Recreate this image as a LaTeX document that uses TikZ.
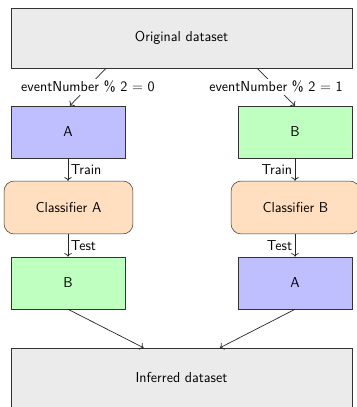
\documentclass[tikz,border=0pt]{standalone}
\usetikzlibrary{arrows.meta}
\begin{document}
\begin{tikzpicture}[x=0.78pt,y=-0.78pt,
  every node/.style={font=\sffamily\fontsize{11.2}{13}\selectfont},
  bigbox/.style={draw=black!80,fill=black!8,minimum width=266pt,minimum height=46.8pt,inner sep=0pt},
  setbox/.style={draw=black!80,minimum width=88.9pt,minimum height=40.6pt,inner sep=0pt},
  setA/.style={setbox,fill=blue!25},
  setB/.style={setbox,fill=green!25},
  clf/.style={draw=black!80,fill=orange!25,rounded corners=8pt,minimum width=100.6pt,minimum height=41.3pt,inner sep=0pt},
  conn/.style={draw=black!85,->,line width=0.55pt},
  lbl/.style={fill=white,inner sep=1.5pt}]
\useasboundingbox (0,0) rectangle (356,407);
\node[bigbox] (orig) at (181.5,38) {Original dataset};
\node[setA] (a1) at (68,132) {A};
\node[setB] (b1) at (295,132) {B};
\node[clf] (ca) at (68.5,207.5) {Classifier A};
\node[clf] (cb) at (295.5,207.5) {Classifier B};
\node[setB] (b2) at (68,283) {B};
\node[setA] (a2) at (295,283) {A};
\node[bigbox] (inf) at (181.5,378) {Inferred dataset};
\draw[conn] ([xshift=-58.9pt]orig.south) -- node[lbl] {eventNumber \% 2 = 0} ([xshift=1.5pt]a1.north);
\draw[conn] ([xshift=58.9pt]orig.south) -- node[lbl] {eventNumber \% 2 = 1} (b1.north);
\draw[conn] (a1.south) -- node[right,inner sep=2pt] {Train} (a1.south |- ca.north);
\draw[conn] (b1.south) -- node[left,inner sep=2pt] {Train} (b1.south |- cb.north);
\draw[conn] (a1.south |- ca.south) -- node[right,inner sep=2pt] {Test} (b2.north);
\draw[conn] (b1.south |- cb.south) -- node[left,inner sep=2pt] {Test} (a2.north);
\draw[conn] (b2.south) -- ([xshift=-29.6pt]inf.north);
\draw[conn] (a2.south) -- ([xshift=30pt]inf.north);
\end{tikzpicture}
\end{document}
